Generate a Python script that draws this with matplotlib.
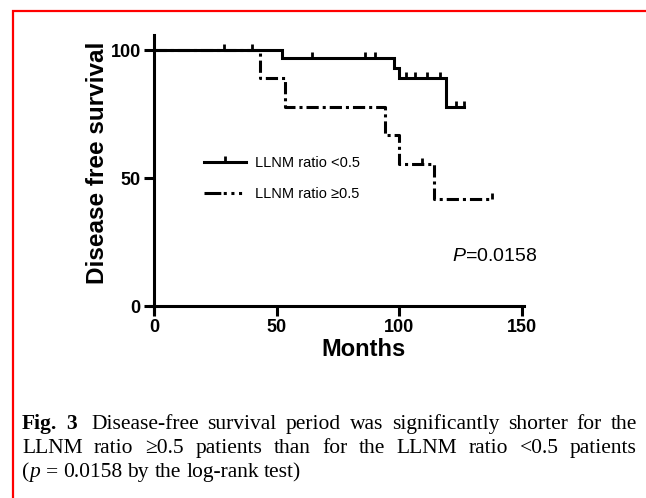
import matplotlib
matplotlib.use('Agg')
import matplotlib.pyplot as plt
import numpy as np
from matplotlib.path import Path
from matplotlib.lines import Line2D

# ---------------- data ----------------
months_lo = [0, 52.0, 98.0, 100.0, 119.0, 126.4]
surv_lo = [100, 96.7, 92.8, 88.9, 77.8, 77.8]
censor_lo = [28.6, 40.1, 64.3, 86.1, 90.2, 102.8, 106.3, 111.4, 116.6, 123.0, 126.4]

months_hi = [0, 43.4, 53.3, 94.0, 99.7, 114.2, 137.9]
surv_hi = [100, 88.9, 77.8, 66.7, 55.6, 41.7, 41.7]
censor_hi = [109.1, 137.9]

x_ticks = [0, 50, 100, 150]
y_ticks = [0, 50, 100]
series_labels = ['LLNM ratio <0.5', 'LLNM ratio \u22650.5']
x_label = 'Months'
y_label = 'Disease free survival'
p_label = r'$P$=0.0158'

caption_lines = [
    [[('Fig.', 'bold', 'normal')], [('3', 'bold', 'normal')], [('Disease-free', 'normal', 'normal')],
     [('survival', 'normal', 'normal')], [('period', 'normal', 'normal')], [('was', 'normal', 'normal')],
     [('significantly', 'normal', 'normal')], [('shorter', 'normal', 'normal')],
     [('for', 'normal', 'normal')], [('the', 'normal', 'normal')]],
    [[(w, 'normal', 'normal')] for w in
     ['LLNM', 'ratio', '\u22650.5', 'patients', 'than', 'for', 'the', 'LLNM', 'ratio', '<0.5', 'patients']],
    [[('(', 'normal', 'normal'), ('p', 'normal', 'italic')], [('=', 'normal', 'normal')],
     [('0.0158', 'normal', 'normal')], [('by', 'normal', 'normal')], [('the', 'normal', 'normal')],
     [('log-rank', 'normal', 'normal')], [('test)', 'normal', 'normal')]],
]

# ---------------- style ----------------
plt.rcParams['font.family'] = ['Liberation Sans', 'DejaVu Sans']
plt.rcParams['mathtext.fontset'] = 'custom'
plt.rcParams['mathtext.it'] = 'Liberation Sans:italic'
plt.rcParams['mathtext.rm'] = 'Liberation Sans'

W, H = 646, 498
fig = plt.figure(figsize=(W / 100, H / 100), dpi=100)
ax = fig.add_axes([0.2327, 0.370, 0.5791, 0.5604])

LW = 2.2
tick_path = Path([(0, 0), (0, 1)], [Path.MOVETO, Path.LINETO])
dashdot = (0, (4, 1.3, 1, 1.3))
legend_dash = (0, (5.5, 0.8, 1, 1.5, 1, 1.5, 1, 20))


def step_value(months, surv, t):
    i = np.searchsorted(months, t, side='right') - 1
    return surv[i]


ax.plot(months_lo, surv_lo, drawstyle='steps-post', color='black', lw=LW,
        solid_joinstyle='miter')
ax.plot(censor_lo, [step_value(months_lo, surv_lo, t) for t in censor_lo],
        ls='none', marker=tick_path, ms=8, mew=2, color='black')

ax.plot(months_hi, surv_hi, drawstyle='steps-post', color='black', lw=LW,
        linestyle=dashdot, dash_capstyle='butt')
ax.plot(censor_hi, [step_value(months_hi, surv_hi, t) for t in censor_hi],
        ls='none', marker=tick_path, ms=8, mew=2, color='black')

ax.set_xlim(-1.5, 151)
ax.set_ylim(-3, 106)
for s in ['top', 'right']:
    ax.spines[s].set_visible(False)
ax.spines['left'].set_position(('data', 0))
ax.spines['bottom'].set_position(('data', 0))
for s in ['left', 'bottom']:
    ax.spines[s].set_linewidth(LW)
ax.set_xticks(x_ticks)
ax.set_yticks(y_ticks)
ax.tick_params(direction='out', length=7, width=LW, labelsize=13, pad=2.5)
for lab in ax.get_xticklabels() + ax.get_yticklabels():
    lab.set_fontweight('bold')

fig.text(364 / W, 1 - 349 / H, x_label, fontsize=17, fontweight='bold', ha='center', va='center')
fig.text(97 / W, 1 - 163 / H, y_label, fontsize=17.5, fontweight='bold', ha='center', va='center',
         rotation=90)

handles = [
    Line2D([], [], color='black', lw=LW, marker=tick_path, ms=8, mew=2),
    Line2D([], [], color='black', lw=LW, linestyle=legend_dash, dash_capstyle='butt'),
]
ax.legend(handles, series_labels, loc='upper left', bbox_to_anchor=(20.3, 58.5),
          bbox_transform=ax.transData, frameon=False, fontsize=10.5, handlelength=2.9,
          handletextpad=0.6, labelspacing=1.15, borderpad=0, borderaxespad=0, numpoints=1)

ax.text(121.5, 19.4, p_label, fontsize=14, va='center', ha='left')

# ---------------- red frame ----------------
fx, fy = 13 / W, 1 - 11 / H
fig.add_artist(Line2D([fx, fx, 1.0], [0, fy, fy], transform=fig.transFigure,
                      color='#ff0000', lw=1.6, solid_joinstyle='miter'))

# ---------------- caption ----------------
renderer = fig.canvas.get_renderer()
CAP_SIZE = 15.5
CAP_FAMILY = ['Liberation Serif', 'DejaVu Serif']


def measure(t, weight, style):
    tt = fig.text(0, 0, t, fontsize=CAP_SIZE, family=CAP_FAMILY, fontweight=weight, fontstyle=style)
    w = tt.get_window_extent(renderer).width
    tt.remove()
    return w


space_w = measure('a a', 'normal', 'normal') - measure('aa', 'normal', 'normal')
x0_px, x1_px = 22, 637
baselines = [429, 453, 477]
for li, (words, yb) in enumerate(zip(caption_lines, baselines)):
    widths = [[measure(t, wt, st) for (t, wt, st) in word] for word in words]
    totals = [sum(w) for w in widths]
    justify = li < len(caption_lines) - 1
    extra = [0.0] * len(words)
    if li == 0:
        extra[1] = space_w  # wider gap after "Fig. 3"
    if justify:
        gap = (x1_px - x0_px - sum(totals) - sum(extra)) / (len(words) - 1)
    else:
        gap = space_w
    x = x0_px
    for word, ws, ex in zip(words, widths, extra):
        for (t, wt, st), w in zip(word, ws):
            fig.text(x / W, 1 - yb / H, t, fontsize=CAP_SIZE, family=CAP_FAMILY,
                     fontweight=wt, fontstyle=st, va='baseline', ha='left')
            x += w
        x += gap + ex

fig.savefig('out.png', dpi=100)
